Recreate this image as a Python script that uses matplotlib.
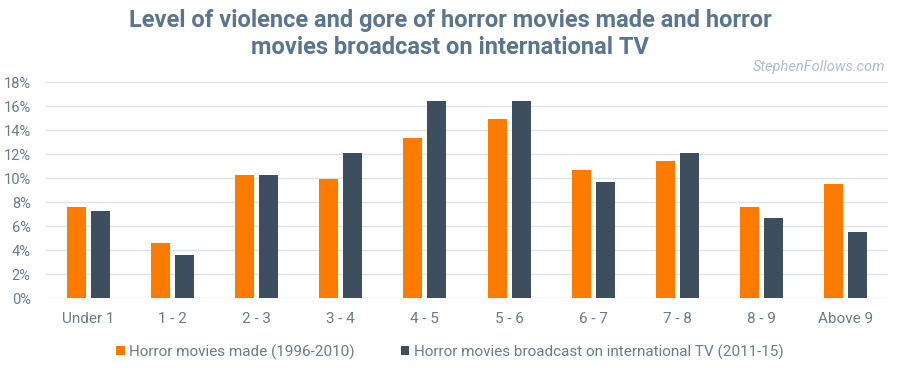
import matplotlib
matplotlib.use("Agg")
import matplotlib.pyplot as plt
import numpy as np

categories = ["Under 1", "1 - 2", "2 - 3", "3 - 4", "4 - 5", "5 - 6", "6 - 7", "7 - 8", "8 - 9", "Above 9"]
made = [7.6, 4.6, 10.3, 9.9, 13.3, 14.9, 10.7, 11.4, 7.6, 9.5]
broadcast = [7.3, 3.6, 10.3, 12.1, 16.4, 16.4, 9.7, 12.1, 6.7, 5.5]
series_names = ["Horror movies made (1996-2010)", "Horror movies broadcast on international TV (2011-15)"]
yticks = [0, 2, 4, 6, 8, 10, 12, 14, 16, 18]
title_lines = ["Level of violence and gore of horror movies made and horror",
               "movies broadcast on international TV"]

ORANGE = "#ff7b00"
DARK = "#3d4f5e"
TXT = "#6a7b8c"
TITLE = "#5a7590"

plt.rcParams['font.family'] = ['Roboto', 'DejaVu Sans']

fig = plt.figure(figsize=(9, 3.68), dpi=100)
ax = fig.add_axes([46/900, 1-298.3/368, 842/900, 216.3/368])

x = np.arange(len(categories))
w = 0.225
off = 0.142
ax.bar(x - off, made, w, color=ORANGE, label=series_names[0], zorder=3)
ax.bar(x + off, broadcast, w, color=DARK, label=series_names[1], zorder=3)

ax.set_xlim(-0.5, len(categories) - 0.5)
ax.set_ylim(0, 18)
ax.set_yticks(yticks)
ax.set_yticklabels([f"{v}%" for v in yticks], color=TXT, fontsize=10.5)
ax.set_xticks(x)
ax.set_xticklabels(categories, color=TXT, fontsize=11)
ax.tick_params(axis='both', length=0)
ax.tick_params(axis='y', pad=11)
ax.tick_params(axis='x', pad=10)
ax.grid(axis='y', color="#dde3ea", linewidth=1, zorder=0)
for s in ax.spines.values():
    s.set_visible(False)

fig.text(0.5, 1-27/368, title_lines[0], ha='center', va='baseline', fontsize=17,
         fontweight='bold', color=TITLE)
fig.text(0.5, 1-54/368, title_lines[1], ha='center', va='baseline', fontsize=17,
         fontweight='bold', color=TITLE)
fig.text(885/900, 1-67/368, "StephenFollows.com", ha='right', va='center', fontsize=10.5,
         style='italic', color="#b5bcc4")

fig.legend(loc='center', bbox_to_anchor=(0.5, 1-352/368), ncol=2, frameon=False,
           fontsize=11, labelcolor=TXT, handlelength=0.55, handleheight=0.55,
           handletextpad=0.3, columnspacing=3.0)

fig.savefig("out.png", dpi=100)
